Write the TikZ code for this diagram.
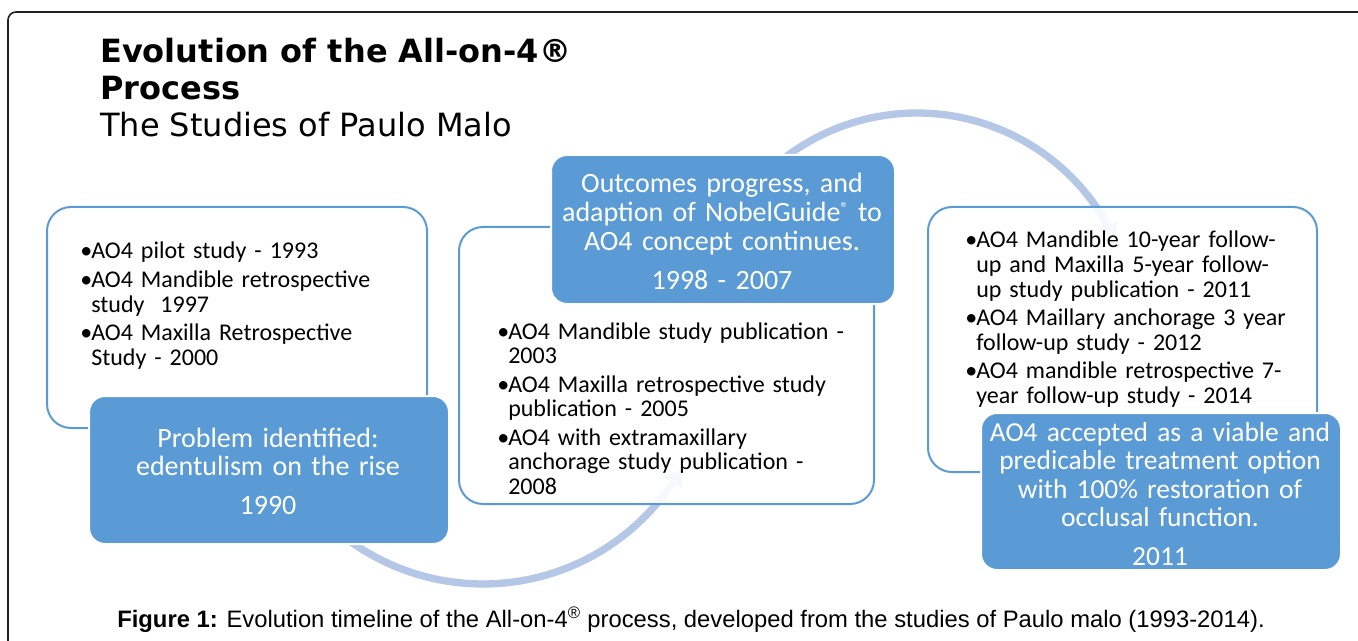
\documentclass[tikz,border=0pt]{standalone}
\usepackage{fontspec}
\setmainfont{Carlito}
\newfontfamily\titlefont{DejaVu Sans}
\newfontfamily\capfont{Liberation Sans}
\usetikzlibrary{arrows.meta}
\definecolor{boxblue}{RGB}{91,155,213}
\definecolor{arcblue}{RGB}{180,199,231}
\definecolor{frameclr}{RGB}{35,31,32}
\newcommand\bl{\makebox[8.25pt][l]{•}}
\newcommand\ind{\hspace*{8.25pt}}
\newcommand\regsup{\raisebox{0.6ex}{\fontsize{12}{12}\selectfont ®}}
\begin{document}
\begin{tikzpicture}[x=0.75pt,y=-0.75pt,
  whitebox/.style={draw=boxblue, line width=1.5pt, fill=white, fill opacity=0.88, text opacity=1, rounded corners=18pt, anchor=north west, inner sep=0},
  bluebox/.style={draw=white, line width=1.5pt, fill=boxblue, rounded corners=12pt, anchor=north west, inner sep=0},
  arcline/.style={draw=arcblue, line width=5.5pt},
  wtext/.style={anchor=base west, align=left, inner sep=0, text width=360*0.75pt, font=\fontsize{18}{18.4}\selectfont, text=black},
  btext/.style={anchor=base, align=center, inner sep=0, text width=350*0.75pt, font=\fontsize{21}{21.4}\selectfont, text=white},
  titlestyle/.style={anchor=base west, inner sep=0, font=\titlefont\fontsize{24}{28}\selectfont}
]
\useasboundingbox (0,0) rectangle (1358,641);
% frame
\draw[frameclr, line width=1.2pt, rounded corners=6pt] (8,660) -- (8,12) -- (1370,12);
% arcs
\draw[arcline, -{Triangle[width=16pt,length=11pt]}] plot[domain=0:105, samples=80] ({483+228*cos(135-\x)},{356+228*sin(135-\x)});
\draw[arcline, -{Triangle[width=16pt,length=11pt]}] plot[domain=0:110, samples=80] ({917+218*cos(-135+\x)},{331+218*sin(-135+\x)});
% boxes
\node[whitebox, minimum width=380*0.75pt, minimum height=221*0.75pt] (w1) at (46,206) {};
\node[whitebox, minimum width=415*0.75pt, minimum height=277*0.75pt] (w2) at (458,226) {};
\node[whitebox, minimum width=389*0.75pt, minimum height=265*0.75pt] (w3) at (927,206) {};
\node[bluebox, minimum width=360*0.75pt, minimum height=148*0.75pt] (b1) at (88,395) {};
\node[bluebox, minimum width=344*0.75pt, minimum height=149*0.75pt] (b2) at (550,154) {};
\node[bluebox, minimum width=360*0.75pt, minimum height=157*0.75pt] (b3) at (980,412) {};
% white box texts
\node[wtext] (t1) at (80,259) {\bl AO4 pilot study - 1993\\[3pt]
\bl AO4 Mandible retrospective\\ \ind study\ \ 1997\\[3pt]
\bl AO4 Maxilla Retrospective\\ \ind Study - 2000};
\node[wtext] (t2) at (497,339) {\bl AO4 Mandible study publication -\\ \ind 2003\\[3pt]
\bl AO4 Maxilla retrospective study\\ \ind publication - 2005\\[3pt]
\bl AO4 with extramaxillary\\ \ind anchorage study publication -\\ \ind 2008};
\node[wtext] (t3) at (965,248) {\bl AO4 Mandible 10-year follow-\\ \ind up and Maxilla 5-year follow-\\ \ind up study publication - 2011\\[3pt]
\bl AO4 Maillary anchorage 3 year\\ \ind follow-up study - 2012\\[3pt]
\bl AO4 mandible retrospective 7-\\ \ind year follow-up study - 2014};
% blue box texts
\node[btext] (bt1) at (268,447) {Problem identified:\\ edentulism on the rise\\[8pt] 1990};
\node[btext] (bt2) at (722,193) {Outcomes progress, and\\ adaption of NobelGuide\regsup{} to\\ AO4 concept continues.\\[8pt] 1998 - 2007};
\node[btext, font=\fontsize{20.6}{21.4}\selectfont] (bt3) at (1160,441) {AO4 accepted as a viable and\\ predicable treatment option\\ with 100\% restoration of\\ occlusal function.\\[8pt] 2011};
% title
\node[titlestyle, font=\titlefont\bfseries\fontsize{24}{28}\selectfont] (title1) at (100,63) {Evolution of the All-on-4®};
\node[titlestyle, font=\titlefont\bfseries\fontsize{24}{28}\selectfont] (title2) at (100,100) {Process};
\node[titlestyle] (title3) at (100,137) {The Studies of Paulo Malo};
% caption
\node[anchor=base west, inner sep=0, font=\capfont\fontsize{17.85}{20}\selectfont] (cap) at (117,627) {\textbf{Figure 1:} Evolution timeline of the All-on-4\textsuperscript{®} process, developed from the studies of Paulo malo (1993-2014).};
\end{tikzpicture}
\end{document}
